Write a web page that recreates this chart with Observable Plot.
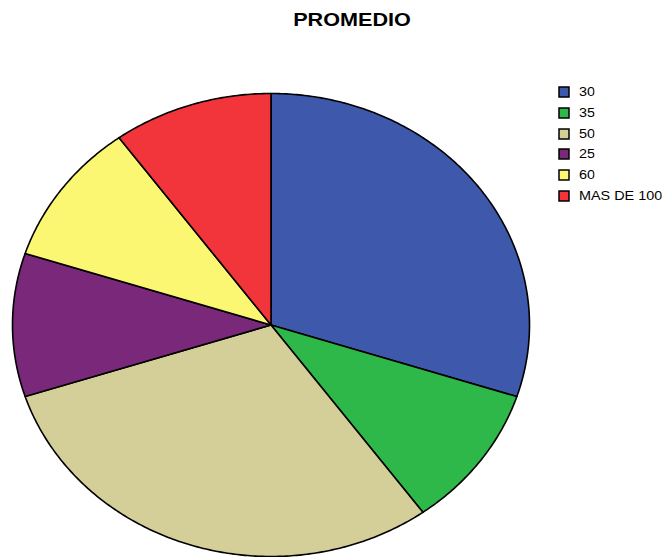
<!DOCTYPE html>
<html>
<head>
<meta charset="utf-8">
<script src="https://cdn.jsdelivr.net/npm/d3@7"></script>
<script src="https://cdn.jsdelivr.net/npm/@observablehq/plot@0.6"></script>
<style>
  html, body { margin: 0; padding: 0; background: #fff; }
  #wrap { position: relative; width: 670px; height: 557px; overflow: hidden; font-family: "Liberation Sans", Arial, sans-serif; }
  #title { position: absolute; left: 0; width: 704px; top: 10px; text-align: center; font-weight: bold; font-size: 18px; color: #000; }
  #title span { display: inline-block; transform: scaleX(1.2); }
  #chart { position: absolute; left: 0; top: 0; }
  #legend { position: absolute; left: 559px; top: 82px; }
  .lg-swatches { font-family: "Liberation Sans", Arial, sans-serif !important; font-size: 12px !important; margin: 0 !important; min-height: 0 !important; }
  .lg-swatch { height: 20.7px; padding: 0 !important; margin: 0 !important; display: flex; align-items: center; }
  .lg-swatch svg { margin-right: 10px !important; overflow: visible; }
  .lg-swatch svg rect { stroke: #000; stroke-width: 1.5px; }
  .lg-swatch-label { display: inline-block; transform: scaleX(1.2); transform-origin: left center; white-space: nowrap; color: #000; }
</style>
</head>
<body>
<div id="wrap">
  <div id="chart"></div>
  <div id="title"><span>PROMEDIO</span></div>
  <div id="legend"></div>
</div>
<script>
const categories = ["30", "35", "50", "25", "60", "MAS DE 100"];
const values = [30, 10, 30, 10, 10, 10];
const colors = ["#3e59ac", "#2eb84a", "#d4ce99", "#7a2879", "#fbf772", "#f2343b"];

const arcs = d3.pie().sort(null).value(d => d.value)(categories.map((c, i) => ({label: c, value: values[i]})));

// Build slice outlines in data space (unit circle, y up), clockwise from 12 o'clock
const pts = [];
for (const a of arcs) {
  const label = a.data.label;
  pts.push({label, x: 0, y: 0});
  const n = Math.max(2, Math.ceil((a.endAngle - a.startAngle) / 0.01));
  for (let k = 0; k <= n; k++) {
    const t = a.startAngle + (a.endAngle - a.startAngle) * k / n;
    pts.push({label, x: Math.sin(t), y: Math.cos(t)});
  }
  pts.push({label, x: 0, y: 0});
}

const color = {domain: categories, range: colors};

const chart = Plot.plot({
  width: 670,
  height: 557,
  marginLeft: 12,
  marginRight: 141,
  marginTop: 93,
  marginBottom: 1,
  x: {domain: [-1, 1], axis: null},
  y: {domain: [-1, 1], axis: null},
  color,
  style: {background: "transparent", overflow: "visible"},
  marks: [
    Plot.line(pts, {x: "x", y: "y", z: "label", fill: "label", stroke: "#000", strokeWidth: 1.6, strokeLinejoin: "round", curve: "linear"})
  ]
});
document.getElementById("chart").appendChild(chart);

const legend = Plot.legend({
  color,
  legend: "swatches",
  columns: 1,
  swatchSize: 10,
  className: "lg"
});
document.getElementById("legend").appendChild(legend);
</script>
</body>
</html>
